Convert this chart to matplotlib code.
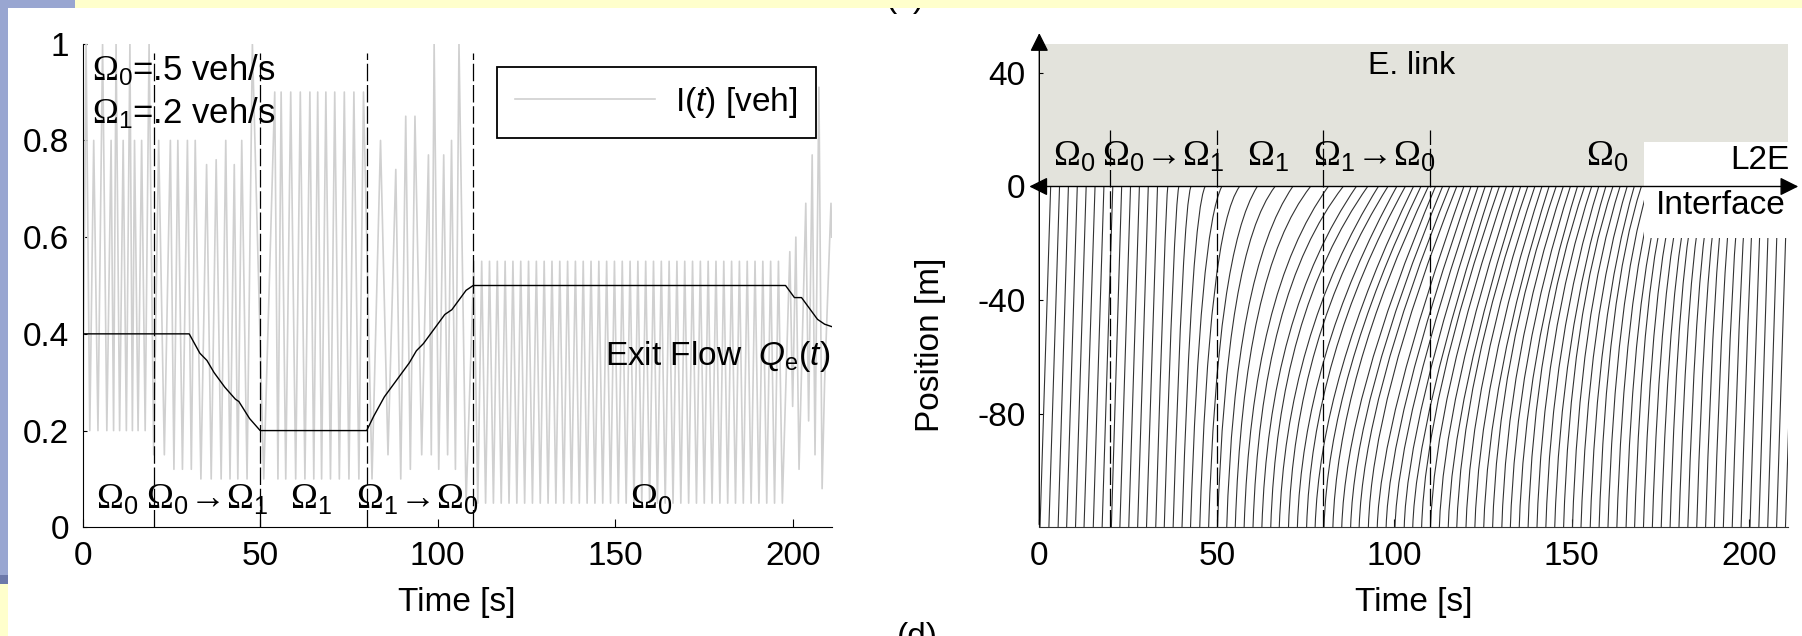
import numpy as np
import matplotlib.pyplot as plt
from matplotlib.patches import Rectangle, PathPatch
from matplotlib.path import Path

plt.rcParams['font.family'] = ['Liberation Sans', 'DejaVu Sans']
plt.rcParams['mathtext.fontset'] = 'custom'
plt.rcParams['mathtext.rm'] = 'Liberation Serif'
plt.rcParams['mathtext.sf'] = 'Liberation Sans'
plt.rcParams['mathtext.it'] = 'Liberation Sans:italic'
plt.rcParams['axes.unicode_minus'] = False

# --- data ---
switch_t = [20, 50, 80, 110]            # regime changes [s]
regime_t = [9.7, 35, 64.3, 94.3, 160]    # where the regime names sit
regime_lbl = [r'$\Omega_\mathsf{0}$',
              r'$\Omega_\mathsf{0}\!\rightarrow\!\Omega_\mathsf{1}$',
              r'$\Omega_\mathsf{1}$',
              r'$\Omega_\mathsf{1}\!\rightarrow\!\Omega_\mathsf{0}$',
              r'$\Omega_\mathsf{0}$']

# I(t) [veh], grey zig-zag
it_t = [0, 0.95, 2.0, 3.1, 4.3, 5.6, 6.8, 8.0, 8.7, 9.4, 10.4, 11.4, 12.3, 13.3, 14.0, 14.6,
        15.6, 16.6, 17.6, 18.7, 20.0, 21.4, 23.0, 24.7, 25.7, 26.8, 28.1, 29.5, 30.6, 31.7,
        33.3, 34.9, 36.2, 37.6, 39.0, 40.3, 41.5, 42.7, 43.7, 44.8, 46.3, 47.8, 51.0, 54.1,
        55.0, 55.9, 57.2, 58.6, 60.0, 61.3, 62.6, 64.0, 65.1, 66.2, 67.3, 68.5, 69.8, 71.0,
        72.3, 73.7, 75.0, 76.4, 77.8, 79.1, 81.5, 83.9, 86.0, 88.2, 89.6, 91.0, 92.3, 93.6,
        95.5, 97.4, 98.2, 99.0, 100.3, 101.7, 102.8, 103.9, 105.0, 106.0, 108.0,
        110.2, 111.3, 112.4, 113.5, 114.6, 115.7, 116.8, 117.9, 119.0, 120.1, 121.2, 122.3,
        123.4, 124.5, 125.6, 126.7, 127.8, 128.9, 130.0, 131.1, 132.2, 133.3, 134.4, 135.5,
        136.6, 137.7, 138.8, 139.9, 141.0, 142.1, 143.2, 144.3, 145.4, 146.5, 147.6, 148.7,
        149.8, 150.9, 152.0, 153.1, 154.2, 155.3, 156.4, 157.5, 158.6, 159.7, 160.8, 161.9,
        163.0, 164.1, 165.2, 166.3, 167.4, 168.5, 169.6, 170.7, 171.8, 172.9, 174.0, 175.1,
        176.2, 177.3, 178.4, 179.5, 180.6, 181.7, 182.8, 183.9, 185.0, 186.1, 187.2, 188.3,
        189.4, 190.5, 191.6, 192.7, 193.8, 194.9, 196.0, 197.1, 199.2, 200.0, 200.9, 201.8,
        203.7, 204.5, 205.5, 206.3, 207.4, 208.3, 209.0, 210.8, 211.0]
it_v = [0.2, 1.0, 0.2, 0.8, 0.2, 1.0, 0.2, 0.8, 0.2, 1.0, 0.2, 0.8, 0.2, 1.0, 0.2, 0.8,
        0.2, 0.8, 0.2, 1.0, 0.15, 0.8, 0.15, 0.8, 0.12, 0.8, 0.12, 0.8, 0.12, 0.8,
        0.1, 0.75, 0.1, 0.76, 0.1, 0.8, 0.1, 0.75, 0.1, 0.8, 0.1, 1.0, 0.1, 0.9,
        0.1, 0.9, 0.1, 0.9, 0.1, 0.9, 0.1, 0.9, 0.1, 0.9, 0.1, 0.9, 0.1, 0.9,
        0.1, 0.9, 0.1, 0.9, 0.1, 0.9, 0.1, 0.8, 0.15, 0.74, 0.1, 0.85, 0.12, 0.85,
        0.15, 0.77, 0.15, 1.0, 0.12, 0.77, 0.15, 0.8, 0.12, 1.0, 0.05,
        0.55, 0.05, 0.55, 0.05, 0.55, 0.05, 0.55, 0.05, 0.55, 0.05, 0.55, 0.05,
        0.55, 0.05, 0.55, 0.05, 0.55, 0.05, 0.55, 0.05, 0.55, 0.05, 0.55, 0.05,
        0.55, 0.05, 0.55, 0.05, 0.55, 0.05, 0.55, 0.05, 0.55, 0.05, 0.55, 0.05,
        0.55, 0.05, 0.55, 0.05, 0.55, 0.05, 0.55, 0.05, 0.55, 0.05, 0.55, 0.05,
        0.55, 0.05, 0.55, 0.05, 0.55, 0.05, 0.55, 0.05, 0.55, 0.05, 0.55, 0.05,
        0.55, 0.05, 0.55, 0.05, 0.55, 0.05, 0.55, 0.05, 0.55, 0.05, 0.55, 0.05,
        0.55, 0.05, 0.55, 0.05, 0.55, 0.05, 0.55, 0.05, 0.57, 0.25, 0.6, 0.12,
        0.67, 0.22, 0.77, 0.15, 0.91, 0.08, 0.3, 0.67, 0.6]

# exit flow Q_e(t) [veh/s]
qe_t = [0, 30, 33, 35, 37, 40, 43, 44, 47, 50, 80, 82, 85, 88, 92, 94, 96, 99, 102, 104,
        106, 108, 110, 198, 200.5, 202.5, 205, 207, 209, 211]
qe_v = [0.4, 0.4, 0.36, 0.345, 0.32, 0.29, 0.265, 0.26, 0.225, 0.2, 0.2, 0.23, 0.27, 0.30,
        0.34, 0.365, 0.38, 0.41, 0.44, 0.45, 0.47, 0.49, 0.5, 0.5, 0.475, 0.475, 0.45, 0.43,
        0.42, 0.415]

# vehicle trajectories: time entering (-120 m), queue bend (t, pos), leaving (0 m)
link_start, link_end = -120, 0
veh_b = [0.2, 2.7, 5.3, 7.7, 10.2, 12.6, 15.2, 17.7, 20.3, 22.7, 25.2, 27.7, 30.2, 32.8,
         35.2, 37.7, 40.2, 42.6, 45.2, 47.7, 50.2, 52.8, 55.2, 57.7, 60.2, 62.7, 65.2, 67.6,
         70.2, 72.7, 75.3, 77.7, 80.2, 82.7, 85.2, 87.7, 90.1, 92.7, 95.2, 97.7, 100.2, 102.8,
         105.2, 107.7, 110.2, 112.7, 115.2, 117.6, 120.2, 122.7, 125.2, 127.7, 130.3, 132.7,
         135.2, 137.7, 140.2, 142.7, 145.2, 147.7, 150.2, 152.6, 155.2, 157.7, 160.2, 162.7,
         165.3, 167.7, 170.2, 172.7, 175.2, 177.7, 180.2, 182.7, 185.2, 187.7, 190.2, 192.7,
         195.2, 197.7, 200.2, 202.7, 205.2, 207.7, 210.2]
veh_q = [0, 0, 0, 0, 0, 0, 0, 0, 0, 0, 0, 0, 0, -4, -7.5, -7.5, -10, -15, -15, -22.5, -22.5,
         -30, -30, -37.5, -37.5, -45, -45, -52.5, -52.5, -60, -60, -67.5, -67.5, -67.5, -75,
         -75, -75, -75, -82.5, -82.5, -82.5, -82.5, -82.5, -75, -75, -75, -75, -67.5, -67.5,
         -67.5, -67.5, -60, -60, -60, -60, -52.5, -52.5, -52.5, -52.5, -45, -45, -45, -45,
         -37.5, -37.5, -37.5, -37.5, -30, -30, -30, -30, -22.5, -22.5, -22.5, -22.5, -15, -15,
         -15, -7.5, -4, -4, 0, 0, 0, 0]
veh_tq = [3.2, 5.7, 8.2, 10.7, 13.2, 15.7, 18.2, 20.7, 23.2, 25.7, 28.2, 30.7, 33.3, 35.6,
          38.0, 40.5, 43.0, 45.3, 47.8, 50.1, 52.6, 55.0, 57.5, 59.8, 62.3, 64.6, 67.1, 69.4,
          71.9, 74.2, 76.7, 79.0, 81.5, 84.0, 86.3, 88.8, 91.3, 93.8, 96.1, 98.6, 101.1, 103.6,
          106.1, 108.8, 111.3, 113.8, 116.3, 119.0, 121.5, 124.0, 126.5, 129.2, 131.7, 134.2,
          136.7, 139.4, 141.9, 144.4, 146.9, 149.6, 152.1, 154.6, 157.1, 159.8, 162.3, 164.8,
          167.3, 170.0, 172.5, 175.0, 177.5, 180.1, 182.6, 185.1, 187.6, 190.3, 192.8, 195.3,
          198.0, 200.6, 203.1, 205.7, 208.2, 210.7, 213.2]
veh_e = [3.2, 5.7, 8.2, 10.7, 13.2, 15.7, 18.2, 20.7, 23.2, 25.7, 28.2, 30.7, 33.3, 36.2,
         39.3, 42.7, 46.7, 51.4, 56.4, 61.4, 66.4, 71.4, 76.4, 81.4, 85.6, 89.3, 92.5, 95.5,
         98.2, 100.7, 103.1, 105.4, 107.5, 109.6, 111.6, 113.6, 115.6, 117.6, 119.6, 121.6,
         123.6, 125.6, 127.6, 129.6, 131.6, 133.6, 135.6, 137.6, 139.6, 141.6, 143.6, 145.6,
         147.6, 149.6, 151.6, 153.6, 155.6, 157.6, 159.6, 161.6, 163.6, 165.6, 167.6, 169.6,
         171.6, 173.6, 175.6, 177.6, 179.6, 181.6, 183.6, 185.6, 187.6, 189.6, 191.6, 193.6,
         195.6, 197.6, 199.6, 201.6, 203.6, 205.7, 208.2, 210.7, 213.2]

# --- figure ---
W, H = 1802, 636
fig = plt.figure(figsize=(W / 100, H / 100), dpi=100)

def px_box(l, t, r, b):
    return [l / W, 1 - b / H, (r - l) / W, (b - t) / H]

# slide decoration
blue, yellow = '#99a6d1', '#ffffcc'
for (l, t, r, b, c) in [(75, 0, W, 8, yellow), (0, 0, 75, 8, blue), (0, 0, 8, 575, blue),
                        (0, 575, 8, 584, '#6d79aa'), (0, 584, 8, H, yellow)]:
    x0, y0, w, h = px_box(l, t, r, b)
    fig.patches.append(Rectangle((x0, y0), w, h, transform=fig.transFigure,
                                 color=c, zorder=5, lw=0))
fig.text(905 / W, 1 - 7 / H, '(c)', ha='center', va='baseline', fontsize=24)
fig.text(917 / W, 1 - 622 / H, '(d)', ha='center', va='top', fontsize=24)

fs = 24
dash = (0, (14, 3))
ax = fig.add_axes(px_box(82.7, 43.7, 831.7, 527.3))
ax.plot(it_t, it_v, color='#d0d0d0', lw=1.2, label=r'I($t$) [veh]')
ax.plot(qe_t, qe_v, color='k', lw=1.0)
ax.vlines(switch_t, 0, 0.98, color='k', lw=0.9, linestyles=dash)
for t, s in zip(regime_t, regime_lbl):
    ax.text(t, 0.04, s, ha='center', va='baseline', fontsize=26)
ax.text(2.5, 0.924, r'$\Omega_\mathsf{0}$=.5 veh/s', fontsize=25, va='baseline')
ax.text(2.5, 0.836, r'$\Omega_\mathsf{1}$=.2 veh/s', fontsize=25, va='baseline')
ax.text(210.5, 0.335, r'Exit Flow  $Q_\mathsf{e}\mathsf{(}t\mathsf{)}$', fontsize=fs,
        ha='right', va='baseline')
leg = ax.legend(loc='upper right', bbox_to_anchor=(0.9786, 0.9524), fontsize=fs,
                handlelength=4.2, handletextpad=0.6, borderpad=0.55, borderaxespad=0,
                fancybox=False, framealpha=1)
leg.get_frame().set_edgecolor('k')
leg.get_frame().set_linewidth(1.3)
ax.set_xlim(0, 211)
ax.set_ylim(0, 1)
ax.set_xticks([0, 50, 100, 150, 200])
ax.set_yticks([0, 0.2, 0.4, 0.6, 0.8, 1])
ax.set_yticklabels(['0', '0.2', '0.4', '0.6', '0.8', '1'])
ax.set_xlabel('Time [s]', fontsize=fs, labelpad=11)
ax.tick_params(direction='in', labelsize=fs, pad=10)
ax.tick_params(axis='x', length=6)
ax.tick_params(axis='y', length=3)
for s in ['top', 'right']:
    ax.spines[s].set_visible(False)

# right: trajectories
ax2 = fig.add_axes(px_box(1039.3, 30.3, 1788.3, 527.3))
ax2.axhspan(link_end, 50, color='#e3e3dc', lw=0, zorder=0)
for b, tq, q, e in zip(veh_b, veh_tq, veh_q, veh_e):
    path = Path([(b, link_start), (tq, q), (e, link_end)],
                [Path.MOVETO, Path.CURVE3, Path.CURVE3])
    ax2.add_patch(PathPatch(path, fill=False, edgecolor='#333333', lw=0.8, zorder=2))
ax2.vlines(switch_t, link_start, 20, color='k', lw=0.9, linestyles=dash, zorder=2)
ax2.add_patch(Rectangle((170.3, -18.2), 42, 34, color='white', lw=0, zorder=3,
                        clip_on=False))
for t, s in zip(regime_t, regime_lbl):
    ax2.text(t, 7.6, s, ha='center', va='baseline', fontsize=26, zorder=4)
ax2.text(105, 42.3, 'E. link', ha='center', va='center', fontsize=23)
ax2.text(1.002, 9.2, 'L2E', transform=ax2.get_yaxis_transform(), ha='right',
         va='center', fontsize=fs, zorder=4)
ax2.text(191.9, -6.7, 'Interface', ha='center', va='center', fontsize=fs, zorder=4)
arrow = dict(arrowstyle='-|>', color='k', lw=1.0, mutation_scale=28)
ax2.annotate('', xy=(1.017, 0), xytext=(0, 0), xycoords=('axes fraction', 'data'),
             arrowprops=arrow, annotation_clip=False, zorder=5)
ax2.annotate('', xy=(-0.017, 0), xytext=(0.01, 0), xycoords=('axes fraction', 'data'),
             arrowprops=arrow, annotation_clip=False, zorder=5)
ax2.annotate('', xy=(0, 1.0), xytext=(0, 0), xycoords='axes fraction',
             arrowprops=arrow, annotation_clip=False, zorder=5)
ax2.set_xlim(0, 211)
ax2.set_ylim(-120, 55)
ax2.set_xticks([0, 50, 100, 150, 200])
ax2.set_yticks([-80, -40, 0, 40])
ax2.set_xlabel('Time [s]', fontsize=fs, labelpad=11)
ax2.set_ylabel('Position [m]', fontsize=fs)
ax2.yaxis.set_label_coords(-0.125, 0.367)
ax2.tick_params(direction='in', labelsize=fs, pad=10)
ax2.tick_params(axis='x', length=6)
ax2.tick_params(axis='y', length=3)
for s in ['top', 'right', 'left']:
    ax2.spines[s].set_visible(False)
ax2.spines['bottom'].set_color('#333333')

fig.savefig('out.png', dpi=100)
